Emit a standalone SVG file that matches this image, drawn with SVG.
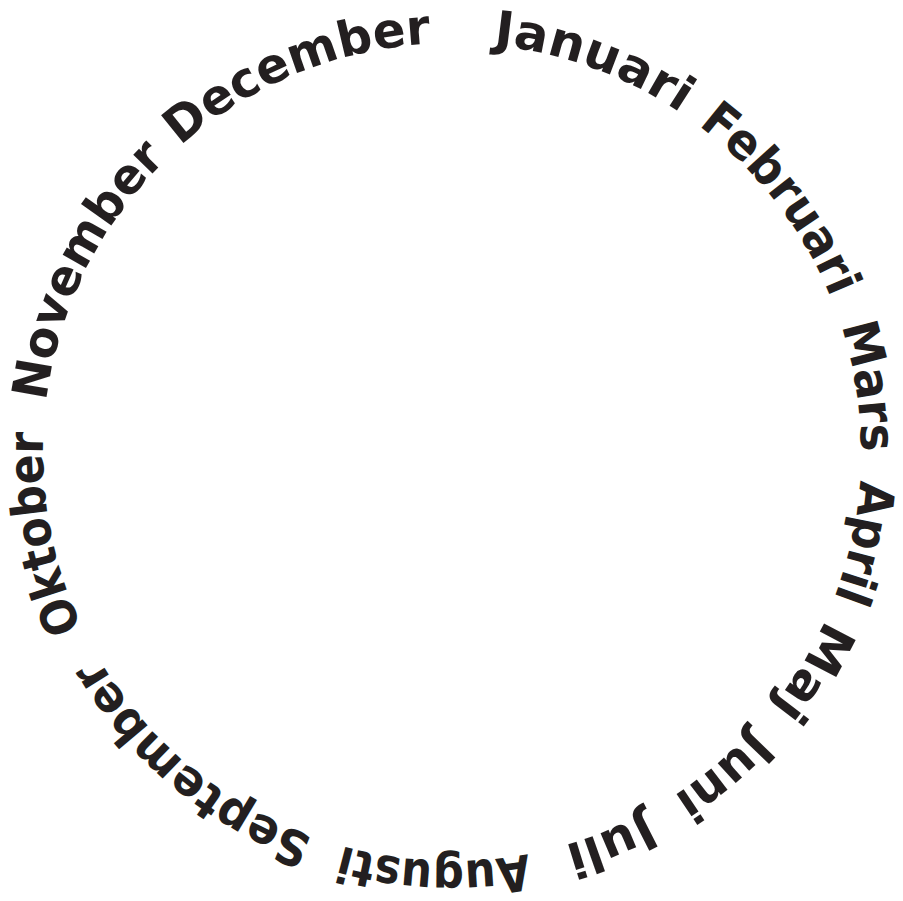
<svg xmlns="http://www.w3.org/2000/svg" width="903" height="901" viewBox="0 0 903 901">
<style>
text { font-family: "DejaVu Sans", "Liberation Sans", sans-serif; font-weight: bold; font-size: 49px; fill: #231f20; }
</style>
<defs>
<path id="ring" d="M452,43 A409,409 0 0 1 452,861 A409,409 0 0 1 452,43"/>
</defs>
<rect width="903" height="901" fill="#ffffff"/>
<g id="januari"><text><textPath href="#ring" startOffset="142" text-anchor="middle" textLength="201" lengthAdjust="spacingAndGlyphs">Januari</textPath></text></g>
<g id="februari"><text><textPath href="#ring" startOffset="374" text-anchor="middle" textLength="220" lengthAdjust="spacingAndGlyphs">Februari</textPath></text></g>
<g id="mars"><text><textPath href="#ring" startOffset="578" text-anchor="middle" textLength="128" lengthAdjust="spacingAndGlyphs">Mars</textPath></text></g>
<g id="april"><text><textPath href="#ring" startOffset="731" text-anchor="middle" textLength="121" lengthAdjust="spacingAndGlyphs">April</textPath></text></g>
<g id="maj"><text><textPath href="#ring" startOffset="866" text-anchor="middle" textLength="104" lengthAdjust="spacingAndGlyphs">Maj</textPath></text></g>
<g id="juni"><text><textPath href="#ring" startOffset="999" text-anchor="middle" textLength="104" lengthAdjust="spacingAndGlyphs">Juni</textPath></text></g>
<g id="juli"><text><textPath href="#ring" startOffset="1127" text-anchor="middle" textLength="88" lengthAdjust="spacingAndGlyphs">Juli</textPath></text></g>
<g id="augusti"><text><textPath href="#ring" startOffset="1302" text-anchor="middle" textLength="188" lengthAdjust="spacingAndGlyphs">Augusti</textPath></text></g>
<g id="september"><text><textPath href="#ring" startOffset="1568" text-anchor="middle" textLength="285" lengthAdjust="spacingAndGlyphs">September</textPath></text></g>
<g id="oktober"><text><textPath href="#ring" startOffset="1846" text-anchor="middle" textLength="201" lengthAdjust="spacingAndGlyphs">Oktober</textPath></text></g>
<g id="november"><text><textPath href="#ring" startOffset="2115" text-anchor="middle" textLength="275" lengthAdjust="spacingAndGlyphs">November</textPath></text></g>
<g id="december"><text><textPath href="#ring" startOffset="2410" text-anchor="middle" textLength="276" lengthAdjust="spacingAndGlyphs">December</textPath></text></g>
</svg>
